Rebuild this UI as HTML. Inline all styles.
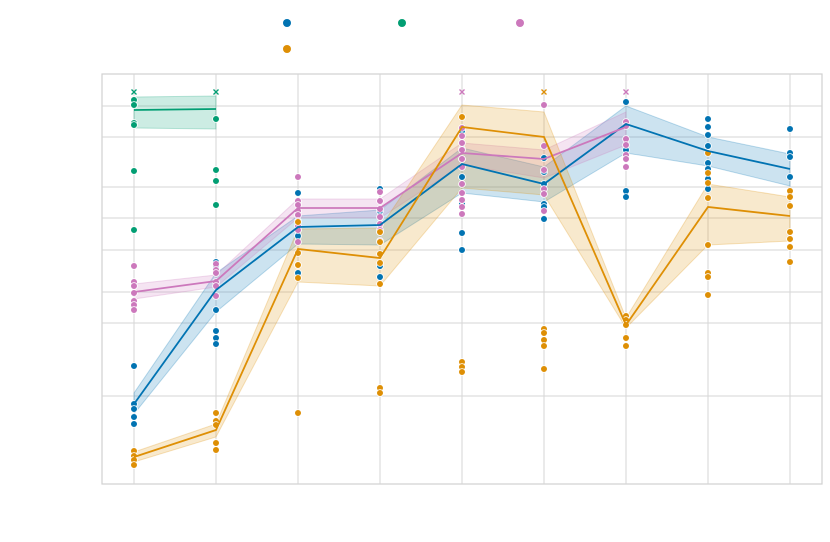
<!DOCTYPE html>
<html><head><meta charset="utf-8"><style>
body{margin:0;background:#fff;font-family:"Liberation Sans",sans-serif}
svg{display:block}
</style></head><body>
<svg id="chart" width="830" height="542"></svg>
<script>
const categories=[0,1,2,3,4,5,6,7,8];
const gridTicks=[106,137,187,218,250,292,323,396];
const seriesNames=["blue","green","pink","orange"];
const colors={blue:"#0173b2",green:"#029e73",pink:"#cc78bc",orange:"#de8f05"};
const blueMean=[404,290,227,225,164,184,124,151,169];
const blueLo=[414,312,244,245,193,202,153,166,186];
const blueHi=[393,273,216,210,148,167,106,137,154];
const greenMean=[110,109];
const greenLo=[128,129];
const greenHi=[97,96];
const pinkMean=[292,281,208,208,153,159,127];
const pinkLo=[299,287,218,218,165,178,145];
const pinkHi=[284,275,199,199,143,150,112];
const orangeMean=[457,430,249,258,127,137,325,207,216];
const orangeLo=[462,437,282,286,188,195,328,245,241];
const orangeHi=[452,424,229,228,105,112,318,184,197];
const bluePts=[[366,404,409,417,424],[262,266,310,331,338,344],[193,204,230,236,265,273],[189,211,232,266,277],[131,149,159,177,204,233,250],[158,172,184,204,207,219],[102,150,191,197],[119,127,135,146,163,169,179,189],[129,153,157,177,196]];
const greenPts=[[100,105,123,125,171,230],[119,170,181,205]];
const pinkPts=[[266,282,286,293,301,305,310],[264,270,273,282,286,296],[177,201,205,211,215,221,226,230,242],[192,201,209,217,224,230,241],[128,136,143,150,159,167,184,193,200,207,214],[105,146,170,189,194,211],[122,126,139,145,155,159,167]];
const orangePts=[[451,456,460,465],[413,421,425,443,450],[222,253,265,278,413],[232,242,254,263,284,388,393],[117,362,367,372],[329,333,340,346,369],[316,320,325,338,346],[153,173,183,198,245,273,277,295],[191,197,206,232,239,247,262]];
const outliers=[["green",0],["green",1],["pink",4],["orange",5],["pink",6]];
const outlierVal=92;

const L=102,R=822,T=74,B=484;
const x=i=>134+i*82;
const y=v=>T+(v-74)/(484-74)*(B-T);
const svg=document.getElementById('chart');
const NS="http://www.w3.org/2000/svg";
function mk(tag,attrs,parent){const e=document.createElementNS(NS,tag);for(const k in attrs)e.setAttribute(k,attrs[k]);(parent||svg).appendChild(e);return e;}

const frame=mk('rect',{x:L,y:T,width:R-L,height:B-T,fill:'#fff',stroke:'#d0d0d0','stroke-width':1.2});


gridTicks.forEach(t=>{const g=mk('line',{x1:L,x2:R,y1:y(t),y2:y(t),stroke:'#d6d6d6','stroke-width':1});

});
categories.forEach(c=>{const g=mk('line',{x1:x(c),x2:x(c),y1:T,y2:B,stroke:'#d6d6d6','stroke-width':1});

});

const data={blue:[blueMean,blueLo,blueHi,bluePts],green:[greenMean,greenLo,greenHi,greenPts],pink:[pinkMean,pinkLo,pinkHi,pinkPts],orange:[orangeMean,orangeLo,orangeHi,orangePts]};
seriesNames.forEach(s=>{const [m,lo,hi]=data[s];
 let d='M'+hi.map((v,i)=>x(i)+','+y(v)).join('L')+'L'+lo.map((v,i)=>[x(i),y(v)]).reverse().map(p=>p.join(',')).join('L')+'Z';
 const b=mk('path',{d,fill:colors[s],'fill-opacity':0.2,stroke:colors[s],'stroke-opacity':0.25});
 
 });
seriesNames.forEach(s=>{const pts=data[s][3];
 pts.forEach((arr,i)=>arr.forEach(v=>{const c=mk('circle',{cx:x(i),cy:y(v),r:3.4,fill:colors[s],stroke:'#fff','stroke-width':0.8});
 
 }));});
seriesNames.forEach(s=>{const m=data[s][0];
 const l=mk('polyline',{points:m.map((v,i)=>x(i)+','+y(v)).join(' '),fill:'none',stroke:colors[s],'stroke-width':1.8});
 
 });
outliers.forEach(([s,i])=>{const cx=x(i),cy=y(outlierVal);
 const t=mk('path',{d:`M${cx-2.5},${cy-2.5}L${cx+2.5},${cy+2.5}M${cx-2.5},${cy+2.5}L${cx+2.5},${cy-2.5}`,stroke:colors[s],'stroke-width':1.3});
 
 });
const leg=[["blue",287,23],["green",402,23],["pink",520,23],["orange",287,49]];
leg.forEach(([s,lx,ly])=>{const c=mk('circle',{cx:lx,cy:ly,r:4,fill:colors[s]});
 
 });
</script>
</body></html>
